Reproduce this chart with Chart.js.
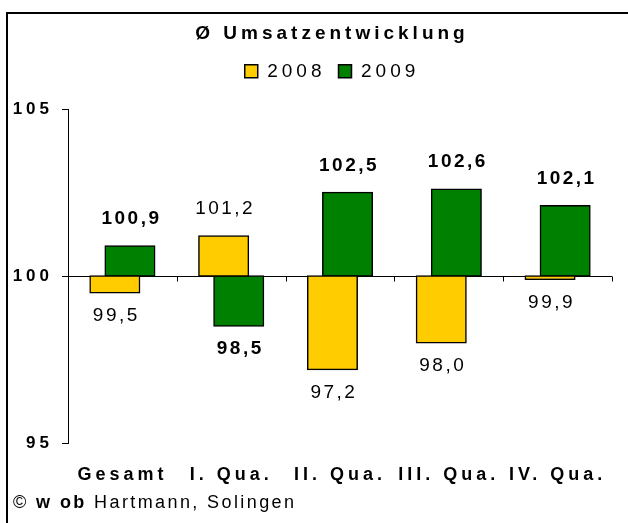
<!DOCTYPE html>
<html>
<head>
<meta charset="utf-8">
<script src="https://cdn.jsdelivr.net/npm/chart.js@4.4.0/dist/chart.umd.min.js"></script>
<style>
html, body { margin: 0; padding: 0; background: #fff; overflow: hidden; }
#wrap { position: relative; width: 628px; height: 523px; overflow: hidden; }
#frame { position: absolute; left: 6px; top: 12px; width: 700px; height: 600px; border: 2px solid #000; }
#chart-box { position: absolute; left: 0; top: 0; width: 656px; height: 523px; }
#copy { position: absolute; left: 13px; top: 492px; font: 18px 'Liberation Sans', Arial, sans-serif; line-height: 20px; letter-spacing: 2.4px; color: #000; }
</style>
</head>
<body>
<div id="wrap">
    <div id="frame"></div>
    <div id="chart-box"><canvas id="chart"></canvas></div>
    <div id="copy">© <b>w ob</b> Hartmann, Solingen</div>
</div>
<script>
const categories = ['Gesamt', 'I. Qua.', 'II. Qua.', 'III. Qua.', 'IV. Qua.'];
const seriesNames = ['2008', '2009'];
const values2008 = [99.5, 101.2, 97.2, 98.0, 99.9];
const values2009 = [100.9, 98.5, 102.5, 102.6, 102.1];
const baseLine = 100;
const yTicks = [95, 100, 105];

const fontFamily = "'Liberation Sans', Arial, sans-serif";

function formatValue(v) {
    return v.toFixed(1).replace('.', ',');
}

// Excel draws its text with wide letter spacing
const spacingPlugin = {
    id: 'spacing',
    beforeLayout(chart) { chart.ctx.letterSpacing = '4px'; },
    beforeDraw(chart) { chart.ctx.letterSpacing = '4px'; }
};

// horizontal line at 100 with small tick marks between categories
const baselinePlugin = {
    id: 'baseline',
    beforeDatasetsDraw(chart) {
        const { ctx, chartArea, scales: { x, y } } = chart;
        const py = Math.round(y.getPixelForValue(baseLine)) + 0.5;
        ctx.save();
        ctx.strokeStyle = '#000';
        ctx.lineWidth = 1;
        ctx.beginPath();
        ctx.moveTo(chartArea.left, py);
        ctx.lineTo(chartArea.right, py);
        for (let i = 0; i < categories.length; i++) {
            const px = Math.round(x.getPixelForValue(i + 0.5)) + 0.5;
            ctx.moveTo(px, py);
            ctx.lineTo(px, py + 5);
        }
        ctx.stroke();
        ctx.restore();
    }
};

const valueLabelPlugin = {
    id: 'valueLabels',
    afterDatasetsDraw(chart) {
        const ctx = chart.ctx;
        const series = [values2008, values2009];
        ctx.save();
        ctx.letterSpacing = '2.5px';
        ctx.fillStyle = '#000';
        ctx.textAlign = 'center';
        ctx.textBaseline = 'middle';
        series.forEach((values, di) => {
            const meta = chart.getDatasetMeta(di);
            ctx.font = (di === 1 ? 'bold ' : '') + '19px ' + fontFamily;
            meta.data.forEach((bar, i) => {
                const v = values[i];
                const top = Math.min(bar.y, bar.base);
                const bottom = Math.max(bar.y, bar.base);
                const ty = v >= baseLine ? top - 27 : bottom + 23;
                ctx.fillText(formatValue(v), bar.x + 1.5, ty);
            });
        });
        ctx.restore();
    }
};

const ctx = document.getElementById('chart').getContext('2d');
const chart = new Chart(ctx, {
    type: 'bar',
    data: {
        labels: categories,
        datasets: [{
            label: seriesNames[0],
            data: values2008.map(v => [baseLine, v]),
            backgroundColor: '#FFCC00',
            borderColor: '#000',
            borderWidth: 1.5,
            borderSkipped: false,
            inflateAmount: 0.75,
            categoryPercentage: 0.2776,
            barPercentage: 3.28
        }, {
            label: seriesNames[1],
            data: values2009.map(v => [baseLine, v]),
            backgroundColor: '#008000',
            borderColor: '#000',
            borderWidth: 1.5,
            borderSkipped: false,
            inflateAmount: 0.75,
            categoryPercentage: 0.2776,
            barPercentage: 3.28
        }]
    },
    options: {
        responsive: true,
        maintainAspectRatio: false,
        animation: false,
        layout: {
            padding: { left: 8, right: 0, top: 0, bottom: 16.4 }
        },
        plugins: {
            title: {
                display: true,
                text: 'Ø Umsatzentwicklung',
                color: '#000',
                font: { family: fontFamily, size: 19, weight: 'bold' },
                padding: { top: 22, bottom: 4 }
            },
            legend: {
                display: true,
                labels: {
                    color: '#000',
                    font: { family: fontFamily, size: 19 },
                    boxWidth: 13,
                    boxHeight: 13,
                    padding: 13
                }
            },
            tooltip: { enabled: false }
        },
        scales: {
            x: {
                type: 'category',
                grid: { display: false, drawTicks: false },
                border: { display: false },
                ticks: {
                    color: '#000',
                    font: { family: fontFamily, size: 18, weight: 'bold' },
                    padding: 21,
                    maxRotation: 0,
                    autoSkip: false
                }
            },
            xTop: {
                type: 'category',
                axis: 'x',
                position: 'top',
                display: true,
                grid: { display: false, drawTicks: false },
                border: { display: false },
                ticks: { display: false },
                afterFit: s => { s.height = 18.2; }
            },
            y: {
                min: 95,
                max: 105,
                afterFit: s => { s.width = 60; },
                afterBuildTicks: s => { s.ticks = yTicks.map(v => ({ value: v })); },
                grid: {
                    display: true,
                    drawOnChartArea: false,
                    drawTicks: true,
                    tickLength: 6,
                    color: '#000',
                    lineWidth: 1
                },
                border: { display: true, color: '#000', width: 1 },
                ticks: {
                    color: '#000',
                    font: { family: fontFamily, size: 17, weight: 'bold' },
                    padding: 9
                }
            },
            yRight: {
                type: 'linear',
                axis: 'y',
                position: 'right',
                display: true,
                grid: { display: false, drawTicks: false },
                border: { display: false },
                ticks: { display: false },
                afterFit: s => { s.width = 44; }
            }
        }
    },
    plugins: [spacingPlugin, baselinePlugin, valueLabelPlugin]
});
</script>
</body>
</html>
